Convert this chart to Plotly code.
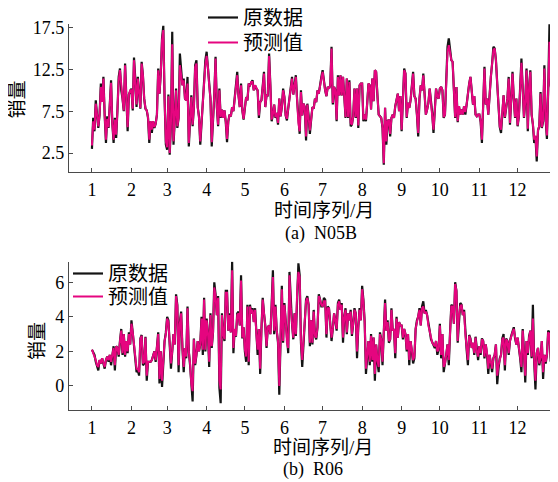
import plotly.graph_objects as go

# ---------------- data ----------------
MONTH_START_DAYS = [1, 32, 60, 91, 121, 152, 182, 213, 244, 274, 305, 335]
MONTH_LABELS = ["1", "2", "3", "4", "5", "6", "7", "8", "9", "10", "11", "12"]

N05B_TICKS = [2.5, 7.5, 12.5, 17.5]
R06_TICKS = [0, 2, 4, 6]

n05b_actual = [
    3.0, 6.7, 5.1, 8.8, 7.1, 5.5, 7.1, 10.8, 8.6, 11.6, 7.0, 3.7, 6.9, 5.5, 8.3, 11.2, 6.0, 3.7, 6.7, 4.3, 7.6, 11.6, 12.6, 10.0, 9.0, 7.5, 13.2, 9.0, 5.1, 9.5, 10.0,
    10.2, 7.6, 13.9, 11.4, 8.0, 11.6, 9.4, 7.8, 13.4, 11.8, 9.0, 7.8, 7.6, 6.7, 3.7, 6.3, 4.9, 6.3, 5.5, 6.0, 7.1, 12.6, 9.6, 12.0, 16.2, 17.7, 9.0, 3.5,
    2.9, 9.5, 2.3, 6.0, 17.0, 3.5, 6.5, 10.2, 5.5, 6.7, 14.4, 12.0, 10.6, 11.4, 9.0, 8.8, 11.6, 3.3, 7.1, 9.4, 5.7, 8.0, 13.0, 13.6, 8.0, 6.9, 3.5, 6.0, 8.6, 11.4, 13.6,
    14.6, 12.8, 10.6, 9.0, 3.3, 6.0, 9.4, 14.0, 8.0, 5.7, 10.2, 6.7, 7.7, 6.7, 7.6, 6.2, 3.8, 6.3, 7.1, 6.9, 8.0, 7.5, 9.0, 10.5, 12.2, 9.4, 8.0, 10.8, 7.6, 6.5,
    8.0, 9.2, 8.8, 10.8, 10.6, 11.0, 11.2, 10.0, 10.6, 10.2, 10.0, 6.7, 8.6, 8.8, 10.2, 12.2, 8.0, 9.4, 9.4, 14.4, 10.6, 6.3, 7.1, 8.3, 6.7, 7.3, 5.9, 9.0, 6.9, 8.0, 10.2,
    9.2, 7.0, 6.4, 7.8, 9.0, 10.0, 11.6, 9.5, 10.6, 11.8, 8.8, 6.0, 4.8, 10.0, 7.0, 8.4, 8.0, 4.0, 8.4, 7.0, 4.8, 6.5, 8.0, 7.8, 9.0, 8.6, 10.0, 9.6, 10.8, 11.6,
    12.4, 10.8, 10.0, 9.3, 10.4, 10.2, 10.6, 15.2, 8.3, 10.4, 10.0, 6.3, 11.8, 9.4, 11.8, 9.4, 11.6, 9.3, 6.7, 11.4, 6.7, 11.2, 5.7, 5.9, 6.9, 10.2, 6.7, 10.2, 5.5, 10.6, 10.8,
    10.8, 6.3, 7.1, 6.3, 8.5, 10.8, 10.6, 7.7, 11.4, 8.7, 12.4, 12.2, 9.4, 7.1, 6.9, 6.7, 5.5, 1.1, 7.9, 3.5, 6.3, 6.5, 4.5, 6.7, 7.1, 6.7, 8.1, 9.0, 9.6, 7.5, 9.3,
    5.1, 9.6, 12.6, 12.0, 6.7, 8.5, 7.9, 8.8, 10.6, 12.2, 9.3, 9.0, 7.1, 4.5, 9.0, 10.6, 10.0, 12.0, 9.6, 7.1, 7.7, 8.5, 10.2, 8.7, 7.3, 4.9, 7.5, 10.2, 9.3, 9.0,
    10.2, 10.4, 10.0, 6.7, 7.1, 10.6, 15.2, 16.2, 14.5, 13.6, 13.4, 9.4, 6.7, 10.4, 6.2, 8.1, 7.1, 7.7, 7.1, 8.1, 7.1, 8.3, 10.0, 10.8, 11.6, 9.4, 8.3, 9.3, 7.1, 6.9, 7.1,
    7.1, 6.2, 3.7, 8.7, 12.8, 8.3, 9.0, 7.1, 10.0, 11.6, 13.2, 15.2, 15.0, 13.6, 10.8, 7.5, 5.6, 4.9, 7.2, 9.4, 6.7, 8.1, 9.0, 11.6, 5.9, 9.0, 12.2, 9.0, 6.7, 9.0,
    5.7, 6.9, 9.8, 13.8, 10.2, 6.7, 8.7, 12.6, 5.1, 10.4, 12.4, 7.1, 5.9, 3.7, 4.5, 1.5, 5.2, 5.7, 9.8, 5.5, 6.3, 13.0, 6.5, 4.2, 10.0, 17.9, 10.6, 9.6, 9.3, 6.7, 3.5,
]

n05b_pred = [
    3.4, 6.3, 5.3, 8.4, 7.1, 5.7, 7.1, 10.4, 8.6, 11.4, 7.0, 4.1, 6.6, 5.6, 8.3, 10.9, 6.0, 4.1, 6.5, 4.7, 7.6, 11.2, 12.4, 10.0, 9.0, 7.6, 13.0, 9.0, 5.6, 9.5, 10.0,
    10.0, 7.8, 13.6, 11.4, 8.3, 11.4, 9.4, 7.9, 13.2, 11.8, 9.0, 7.8, 7.6, 6.8, 4.1, 6.3, 5.3, 6.3, 5.6, 6.0, 7.1, 12.4, 9.6, 12.0, 16.0, 17.2, 9.0, 3.9,
    3.2, 9.3, 2.5, 6.0, 15.5, 3.9, 6.5, 10.0, 5.7, 6.7, 13.0, 12.0, 10.6, 11.2, 9.0, 8.8, 10.8, 3.7, 7.1, 9.2, 5.9, 8.0, 12.8, 13.2, 8.0, 6.7, 3.9, 6.0, 8.6, 11.2, 13.1,
    14.1, 12.8, 10.6, 9.0, 3.8, 6.0, 9.4, 13.8, 8.0, 5.9, 10.0, 6.8, 7.7, 6.7, 7.6, 6.3, 4.2, 6.3, 7.1, 6.9, 8.0, 7.5, 9.0, 10.5, 11.8, 9.4, 8.0, 10.6, 7.6, 6.6,
    8.0, 9.2, 8.8, 10.7, 10.6, 11.0, 11.0, 10.0, 10.6, 10.2, 10.0, 7.0, 8.6, 8.8, 10.2, 12.0, 8.0, 9.4, 9.4, 14.1, 10.6, 6.5, 7.1, 8.3, 6.8, 7.3, 6.1, 9.0, 6.9, 8.0, 10.0,
    9.2, 7.0, 6.6, 7.8, 9.0, 10.0, 11.4, 9.5, 10.6, 11.6, 8.8, 6.1, 5.1, 9.8, 7.0, 8.4, 8.0, 4.5, 8.3, 7.0, 5.2, 6.5, 8.0, 7.8, 9.0, 8.6, 10.0, 9.6, 10.8, 11.4,
    12.2, 10.8, 10.0, 9.3, 10.4, 10.2, 10.6, 15.0, 8.5, 10.4, 10.0, 6.5, 11.6, 9.4, 11.8, 9.4, 11.6, 9.3, 6.8, 11.4, 6.8, 11.0, 6.1, 5.9, 6.9, 10.2, 6.8, 10.2, 5.8, 10.6, 10.8,
    10.8, 6.5, 7.1, 6.5, 8.5, 10.8, 10.6, 7.7, 11.4, 8.7, 12.4, 12.2, 9.4, 7.1, 6.9, 6.7, 5.6, 1.3, 7.9, 3.9, 6.3, 6.5, 4.8, 6.7, 7.1, 6.7, 8.1, 9.0, 9.6, 7.5, 9.3,
    5.3, 9.6, 12.4, 12.0, 6.8, 8.5, 7.9, 8.8, 10.6, 12.0, 9.3, 9.0, 7.1, 4.9, 9.0, 10.6, 10.0, 11.8, 9.6, 7.1, 7.7, 8.5, 10.2, 8.7, 7.3, 5.3, 7.5, 10.2, 9.3, 9.0,
    10.2, 10.4, 10.0, 6.8, 7.1, 10.6, 14.6, 15.4, 14.5, 13.6, 13.4, 9.4, 6.8, 10.4, 6.3, 8.1, 7.1, 7.7, 7.1, 8.1, 7.4, 8.3, 10.0, 10.8, 11.6, 9.4, 8.3, 9.3, 7.1, 6.9, 7.1,
    7.1, 6.3, 4.1, 8.7, 12.6, 8.3, 9.0, 7.1, 10.0, 11.6, 13.2, 14.8, 15.0, 13.6, 10.8, 7.5, 5.7, 5.3, 7.2, 9.4, 6.8, 8.1, 9.0, 11.4, 6.1, 9.0, 12.0, 9.0, 6.8, 9.0,
    5.8, 6.9, 9.8, 13.3, 10.2, 6.8, 8.7, 12.4, 5.4, 10.4, 12.2, 7.1, 6.0, 4.1, 4.6, 2.1, 5.2, 5.8, 9.6, 5.6, 6.4, 12.6, 6.7, 4.6, 10.0, 15.8, 10.6, 9.6, 9.3, 6.8, 3.9,
]

r06_actual = [
    2.1, 1.9, 1.8, 1.4, 1.1, 0.9, 1.5, 1.3, 1.6, 1.2, 1.0, 1.5, 1.7, 1.4, 1.8, 1.2, 1.8, 2.3, 0.9, 2.3, 2.2, 1.7, 2.6, 3.3, 1.8, 3.0, 1.7, 2.6, 1.9, 3.1, 2.4,
    3.8, 3.1, 2.3, 1.9, 0.8, 0.9, 0.6, 2.75, 2.95, 1.2, 1.3, 2.85, 0.3, 1.4, 1.4, 1.4, 1.5, 1.8, 2.0, 1.4, 2.2, 3.1, 0.15, 2.0, -0.05, 1.4, 2.6, 3.1,
    4.0, 3.8, 2.5, 1.0, 2.0, 3.0, 2.4, 5.3, 4.7, 0.8, 3.7, 4.3, 2.2, 0.8, 2.2, 1.6, 4.6, 2.0, 1.2, -0.2, -0.9, 2.75, 1.2, 1.8, 2.6, 2.0, 2.4, 4.0, 1.8, 5.1, 2.0,
    3.9, 3.1, 1.1, 4.2, 2.2, 3.1, 6.0, 5.3, 4.1, 5.2, -0.1, -1.0, 4.2, 3.0, 2.6, 5.5, 5.5, 3.2, 4.2, 3.1, 7.2, 1.9, 3.3, 2.85, 4.2, 4.3, 3.5, 6.4, 2.75, 3.4,
    2.0, 1.4, 4.7, 1.2, 4.7, 4.2, 4.5, 3.7, 4.5, 3.0, 1.8, 3.3, 0.7, 3.3, 5.1, 4.2, 3.5, 2.2, 3.4, 3.5, 3.0, 4.7, 6.7, 3.0, 4.7, 3.2, 2.5, -0.5, 3.0, 5.8, 2.5,
    4.8, 3.8, 2.5, 1.9, 6.6, 4.5, 3.6, 2.7, 4.2, 2.9, 5.5, 7.1, 6.4, 2.5, 1.1, 2.5, 3.4, 5.0, 5.2, 4.7, 2.3, 3.8, 2.4, 4.4, 2.9, 2.7, 3.4, 5.3, 5.0, 4.6,
    4.6, 5.1, 5.0, 2.8, 4.6, 4.5, 3.6, 2.6, 3.3, 4.2, 3.8, 3.2, 4.8, 5.0, 4.4, 4.8, 2.5, 4.0, 4.5, 3.0, 4.2, 3.8, 4.4, 2.9, 3.6, 4.5, 4.2, 1.6, 3.4, 4.5, 3.8,
    5.8, 5.0, 3.7, 0.7, 1.9, 2.6, 1.2, 3.0, 1.4, 2.8, 0.3, 2.4, 1.4, 0.8, 3.1, 2.7, 1.2, 3.3, 5.0, 3.2, 3.8, 2.5, 2.7, 4.5, 3.2, 3.3, 1.6, 4.0, 2.8, 3.7, 3.5,
    3.5, 2.7, 3.3, 3.0, 2.0, 3.0, 1.2, 2.6, 2.0, 1.3, 1.6, 3.3, 3.8, 4.0, 4.5, 3.5, 4.6, 4.9, 4.2, 4.4, 4.1, 3.5, 3.2, 2.7, 2.5, 2.4, 2.2, 2.6, 1.8, 2.1,
    3.6, 1.6, 3.0, 0.8, 1.2, 1.8, 2.4, 1.2, 3.1, 4.7, 4.6, 3.6, 6.0, 5.5, 2.5, 4.1, 4.8, 4.7, 4.1, 4.4, 3.0, 2.1, 1.2, 2.95, 2.75, 2.2, 2.5, 1.8, 2.85, 2.0, 1.5,
    2.3, 1.8, 2.75, 2.6, 1.6, 2.4, 1.8, 0.7, 1.8, 1.3, 0.8, 1.6, 1.8, 2.4, 0.1, 1.0, 1.6, 1.8, 2.75, 3.0, 0.9, 2.75, 2.6, 1.8, 2.6, 2.9, 3.2, 3.4, 2.75, 2.4,
    2.8, 2.3, 1.6, 0.8, 3.3, 2.0, 0.2, 2.6, 1.8, 2.9, 3.2, 1.6, 4.7, 1.4, -0.2, 1.9, 2.2, 1.2, 1.6, 2.6, 0.4, 1.8, 1.3, 1.8, 3.2, 3.1, 1.4, 2.2, 0.1, 2.6, 2.4,
]

r06_pred = [
    2.1, 1.9, 1.8, 1.5, 1.2, 1.1, 1.5, 1.3, 1.6, 1.3, 1.1, 1.5, 1.7, 1.5, 1.8, 1.4, 1.8, 2.2, 1.2, 2.3, 2.2, 1.8, 2.6, 3.2, 1.9, 3.0, 1.8, 2.6, 2.0, 3.0, 2.4,
    3.6, 3.1, 2.3, 1.9, 1.0, 1.0, 0.8, 2.7, 2.9, 1.3, 1.4, 2.8, 0.6, 1.4, 1.4, 1.4, 1.5, 1.8, 2.0, 1.5, 2.2, 3.0, 0.4, 2.0, 0.3, 1.5, 2.6, 3.0,
    3.9, 3.7, 2.5, 1.3, 2.0, 3.0, 2.4, 5.2, 4.6, 1.2, 3.6, 4.2, 2.2, 1.1, 2.2, 1.7, 4.5, 2.0, 1.3, 0.1, -0.3, 2.7, 1.3, 1.8, 2.6, 2.0, 2.4, 3.9, 2.1, 5.0, 2.1,
    3.8, 3.1, 1.4, 4.1, 2.3, 3.1, 5.7, 5.2, 4.1, 5.1, 0.3, -0.2, 4.1, 3.0, 2.7, 5.4, 5.4, 3.2, 4.1, 3.1, 6.7, 2.2, 3.3, 2.9, 4.1, 4.2, 3.5, 6.1, 2.8, 3.4,
    2.1, 1.7, 4.6, 1.4, 4.6, 4.2, 4.4, 3.7, 4.4, 3.0, 2.1, 3.3, 1.0, 3.3, 5.0, 4.2, 3.5, 2.3, 3.4, 3.5, 3.0, 4.6, 6.3, 3.2, 4.6, 3.2, 2.6, 0.0, 3.0, 5.6, 2.6,
    4.7, 3.8, 2.5, 2.2, 6.4, 4.5, 3.6, 2.8, 4.2, 3.0, 5.4, 6.6, 6.3, 2.6, 1.5, 2.5, 3.4, 4.9, 5.1, 4.7, 2.5, 3.8, 2.5, 4.3, 2.9, 2.8, 3.4, 5.2, 5.0, 4.7,
    4.6, 4.9, 4.9, 3.0, 4.5, 4.5, 3.6, 2.8, 3.3, 4.2, 3.8, 3.3, 4.7, 4.9, 4.4, 4.7, 2.8, 4.0, 4.4, 3.1, 4.2, 3.8, 4.3, 3.0, 3.6, 4.4, 4.2, 2.0, 3.4, 4.4, 3.8,
    5.6, 4.9, 3.7, 1.0, 2.0, 2.6, 1.4, 2.9, 1.5, 2.8, 0.7, 2.4, 1.5, 1.1, 3.0, 2.7, 1.4, 3.2, 4.8, 3.2, 3.7, 2.6, 2.7, 4.4, 3.2, 3.3, 1.9, 3.9, 2.8, 3.7, 3.5,
    3.5, 2.8, 3.3, 3.0, 2.1, 3.0, 1.5, 2.6, 2.1, 1.5, 1.7, 3.3, 3.7, 4.0, 4.4, 3.5, 4.5, 4.6, 4.2, 4.3, 4.1, 3.5, 3.2, 2.8, 2.5, 2.4, 2.3, 2.6, 2.0, 2.1,
    3.5, 1.8, 3.0, 1.1, 1.3, 1.8, 2.4, 1.5, 3.1, 4.6, 4.6, 3.6, 5.9, 5.5, 2.6, 4.1, 4.6, 4.7, 4.1, 4.3, 3.0, 2.2, 1.5, 2.9, 2.7, 2.2, 2.5, 1.9, 2.8, 2.0, 1.7,
    2.3, 1.9, 2.7, 2.6, 1.7, 2.4, 1.9, 1.0, 1.8, 1.4, 1.0, 1.6, 1.8, 2.4, 0.6, 1.2, 1.6, 1.8, 2.7, 2.8, 1.2, 2.7, 2.6, 1.9, 2.6, 2.9, 3.1, 3.3, 2.7, 2.4,
    2.8, 2.3, 1.7, 1.1, 3.2, 2.0, 0.6, 2.6, 1.9, 2.8, 3.2, 1.7, 3.9, 1.5, 0.3, 1.9, 2.2, 1.3, 1.7, 2.6, 0.8, 1.8, 1.4, 1.8, 3.1, 3.0, 1.6, 2.2, 0.5, 2.5, 2.4,
]

SERIES_NAMES = ["原数据", "预测值"]

# ---------------- styling ----------------
# The page body keeps its default 8px margin, so the figure is drawn 8px in from
# the window's top-left corner; layout positions below are given in window pixels.
OFF = 8
WIN_W, WIN_H = 558, 482
W, H = WIN_W - OFF, WIN_H - OFF
FONT = "'Liberation Serif', 'Times New Roman', 'Noto Sans CJK SC', serif"
BLACK = "#141414"
PINK = "#E5057F"
AXIS = "#4a4a4a"
LEG_TOP_TO_ROW = 20  # distance from a legend's top edge to its row centre (px)


def fx(p):
    return (p - OFF) / W


def fy(p):
    return 1 - (p - OFF) / H


fig = go.Figure()

panels = [
    (n05b_actual, n05b_pred, "x", "y", ("legend", "legend2")),
    (r06_actual, r06_pred, "x2", "y2", ("legend3", "legend4")),
]
for actual, pred, xa, ya, legs in panels:
    days_a = list(range(1, len(actual) + 1))
    days_p = list(range(1, len(pred) + 1))
    fig.add_trace(go.Scatter(x=days_a, y=actual, mode="lines", name=SERIES_NAMES[0],
                             line=dict(color=BLACK, width=2.2), xaxis=xa, yaxis=ya, legend=legs[0]))
    fig.add_trace(go.Scatter(x=days_p, y=pred, mode="lines", name=SERIES_NAMES[1],
                             line=dict(color=PINK, width=2), xaxis=xa, yaxis=ya, legend=legs[1]))

xdom = [fx(69), min(1.0, fx(557.5))]
common_x = dict(range=[-17.0, 366.3], tickvals=MONTH_START_DAYS, ticktext=MONTH_LABELS,
                ticks="inside", ticklen=4, tickwidth=1, tickcolor=AXIS,
                showline=True, linecolor=AXIS, linewidth=1.3, showgrid=False, zeroline=False,
                tickfont=dict(family=FONT, size=18, color="black"), ticklabelstandoff=1,
                domain=xdom, fixedrange=True, automargin=False)
common_y = dict(ticks="inside", ticklen=4, tickwidth=1, tickcolor=AXIS,
                showline=True, linecolor=AXIS, linewidth=1.3, showgrid=False, zeroline=False,
                tickfont=dict(family=FONT, size=18, color="black"), ticklabelstandoff=0,
                fixedrange=True, automargin=False)


def leg(x_text_start, row_centre):
    return dict(x=fx(x_text_start - 42), y=fy(row_centre - LEG_TOP_TO_ROW),
                xanchor="left", yanchor="top",
                font=dict(family=FONT, size=20, color="black"),
                bgcolor="rgba(0,0,0,0)", borderwidth=0, tracegroupgap=0, itemwidth=30)


fig.update_layout(
    width=W, height=H, autosize=False,
    margin=dict(l=0, r=0, t=0, b=0, pad=0, autoexpand=False),
    paper_bgcolor="white", plot_bgcolor="white",
    font=dict(family=FONT, size=18, color="black"),
    xaxis=dict(anchor="y", **common_x),
    yaxis=dict(anchor="x", domain=[fy(172), fy(23.5)], range=[0.24, 17.98],
               tickvals=N05B_TICKS, ticktext=[str(v) for v in N05B_TICKS], **common_y),
    xaxis2=dict(anchor="y2", **common_x),
    yaxis2=dict(anchor="x2", domain=[fy(410), fy(261.7)], range=[-1.39, 7.19],
                tickvals=R06_TICKS, ticktext=[str(v) for v in R06_TICKS], **common_y),
    legend=leg(245, 18),
    legend2=leg(245, 43),
    legend3=leg(110, 274),
    legend4=leg(110, 297),
    showlegend=True,
)

ann_font = dict(family=FONT, size=19, color="black")
cap_font = dict(family=FONT, size=18, color="black")
annotations = [
    dict(text="时间序列/月", x=fx(323.5), y=fy(210), font=ann_font),
    dict(text="(a)\u00a0\u00a0N05B", x=fx(320.5), y=fy(233), font=cap_font),
    dict(text="销量", x=fx(17.5), y=fy(100), font=ann_font, textangle=-90),
    dict(text="时间序列/月", x=fx(323), y=fy(447.5), font=ann_font),
    dict(text="(b)\u00a0\u00a0R06", x=fx(313), y=fy(469.5), font=cap_font),
    dict(text="销量", x=fx(37), y=fy(341), font=ann_font, textangle=-90),
]
for a in annotations:
    fig.add_annotation(xref="paper", yref="paper", showarrow=False,
                       xanchor="center", yanchor="middle", **a)

fig.write_html("out.html")
